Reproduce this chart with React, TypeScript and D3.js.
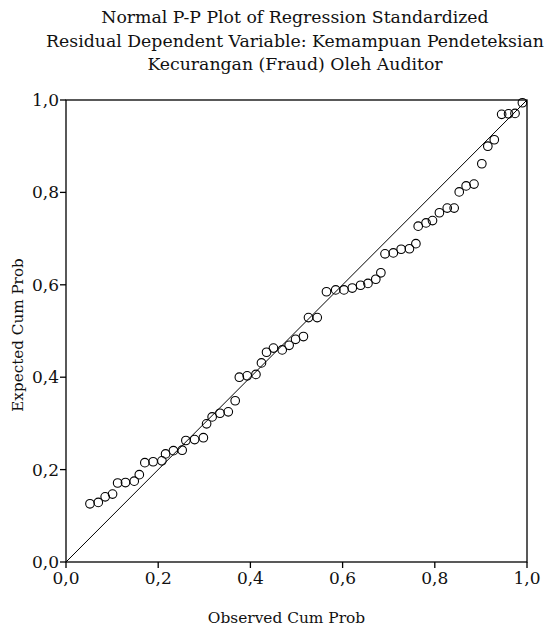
import React from "react";
import * as d3 from "d3";

const observed = [
  0.052, 0.070, 0.085, 0.101, 0.112, 0.129, 0.148, 0.159, 0.171, 0.189,
  0.208, 0.216, 0.233, 0.252, 0.260, 0.279, 0.298, 0.305, 0.317, 0.334,
  0.352, 0.367, 0.376, 0.393, 0.412, 0.424, 0.435, 0.450, 0.469, 0.484,
  0.498, 0.515, 0.526, 0.545, 0.565, 0.585, 0.603, 0.621, 0.639, 0.655,
  0.672, 0.683, 0.692, 0.710, 0.727, 0.745, 0.759, 0.764, 0.781, 0.795,
  0.810, 0.827, 0.842, 0.853, 0.868, 0.885, 0.902, 0.915, 0.929, 0.945,
  0.960, 0.974, 0.990,
];
const expected = [
  0.126, 0.129, 0.141, 0.147, 0.171, 0.172, 0.175, 0.189, 0.215, 0.217,
  0.219, 0.234, 0.241, 0.242, 0.263, 0.265, 0.269, 0.299, 0.314, 0.322,
  0.325, 0.349, 0.400, 0.403, 0.406, 0.431, 0.454, 0.463, 0.459, 0.469,
  0.482, 0.488, 0.529, 0.529, 0.585, 0.589, 0.589, 0.593, 0.599, 0.603,
  0.612, 0.626, 0.667, 0.669, 0.677, 0.678, 0.689, 0.727, 0.734, 0.739,
  0.756, 0.766, 0.766, 0.801, 0.814, 0.818, 0.862, 0.900, 0.914, 0.969,
  0.970, 0.971, 0.994,
];
const ticks = [0, 0.2, 0.4, 0.6, 0.8, 1.0];
const titleLines = [
  "Normal P-P Plot of Regression Standardized",
  "Residual Dependent Variable: Kemampuan Pendeteksian",
  "Kecurangan (Fraud) Oleh Auditor",
];
const xTitle = "Observed Cum Prob";
const yTitle = "Expected Cum Prob";

const W = 555;
const H = 629;
const left = 66, right = 527, top = 100, bottom = 562;
const FONT = "'DejaVu Serif', serif";

export default function App() {
  const x = d3.scaleLinear().domain([0, 1]).range([left, right]);
  const y = d3.scaleLinear().domain([0, 1]).range([bottom, top]);
  const fmt = (v: number) => d3.format(".1f")(v).replace(".", ",");
  const diag = d3.line<number>().x((v) => x(v)).y((v) => y(v))([0, 1]) || "";
  return (
    <svg
      width={W}
      height={H}
      style={{ position: "absolute", left: 0, top: 0, background: "#fff" }}
      fontFamily={FONT}
    >
      <rect x={0} y={0} width={W} height={H} fill="#fff" />
      {titleLines.map((t, i) => (
        <text key={i} x={295} y={23 + i * 23.5} textAnchor="middle" fontSize={17.3} fill="#111">
          {t}
        </text>
      ))}
      <rect x={left} y={top} width={right - left} height={bottom - top} fill="none" stroke="#000" strokeWidth={1.3} />
      <path d={diag} stroke="#000" strokeWidth={1} fill="none" />
      {ticks.map((t) => (
        <g key={"x" + t}>
          <line x1={x(t)} x2={x(t)} y1={bottom} y2={bottom + 6} stroke="#000" strokeWidth={1.3} />
          <text x={x(t)} y={bottom + 22} textAnchor="middle" fontSize={17} fill="#111">
            {fmt(t)}
          </text>
        </g>
      ))}
      {ticks.map((t) => (
        <g key={"y" + t}>
          <line x1={left - 6} x2={left} y1={y(t)} y2={y(t)} stroke="#000" strokeWidth={1.3} />
          <text x={left - 7} y={y(t) + 6} textAnchor="end" fontSize={17} fill="#111">
            {fmt(t)}
          </text>
        </g>
      ))}
      {observed.map((o, i) => (
        <circle key={i} cx={x(o)} cy={y(expected[i])} r={4.3} fill="none" stroke="#000" strokeWidth={1.1} />
      ))}
      <text x={(left + right) / 2 - 10} y={623} textAnchor="middle" fontSize={15.4} fill="#111">
        {xTitle}
      </text>
      <text
        transform={`translate(23,335) rotate(-90)`}
        textAnchor="middle"
        fontSize={15.2}
        fill="#111"
      >
        {yTitle}
      </text>
    </svg>
  );
}
